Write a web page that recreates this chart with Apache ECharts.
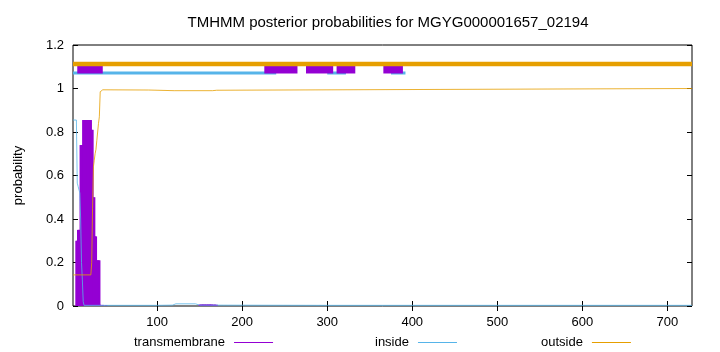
<!DOCTYPE html>
<html><head><meta charset="utf-8">
<script src="https://cdn.jsdelivr.net/npm/echarts@6/dist/echarts.min.js"></script>
<style>html,body{margin:0;padding:0;background:#fff}#c{width:720px;height:352px}</style>
</head><body><div id="c"></div>
<script>
var titleText = "TMHMM posterior probabilities for MGYG000001657_02194";
var seqLength = 729;
var xTicks = [100, 200, 300, 400, 500, 600, 700];
// transmembrane posterior (impulses): [position, probability]
var tmData = [[5,0.30],[6,0.30],[7,0.35],[8,0.35],[9,0.35],[10,0.74],[11,0.74],[12,0.74],
  [13,0.855],[14,0.855],[15,0.855],[16,0.855],[17,0.855],[18,0.855],[19,0.855],[20,0.855],[21,0.855],[22,0.855],
  [23,0.81],[24,0.81],[25,0.50],[26,0.50],[27,0.32],[28,0.32],[29,0.21],[30,0.21],[31,0.21],[32,0.21],
  [33,0.006],[36,0.005],[40,0.004],
  [150,0.007],[152,0.008],[154,0.008],[156,0.008],[158,0.008],[160,0.008],[162,0.008],[164,0.008],[166,0.007],[168,0.007],[170,0.006]];
// inside posterior
var insideData = [[1,0.855],[5,0.855],[6,0.565],[7,0.55],[9,0.52],[10,0.4],[11,0.2],[12,0.12],[13,0.02],[14,0.003],
  [100,0.003],[118,0.004],[122,0.01],[145,0.01],[150,0.004],[300,0.003],[729,0.003]];
// outside posterior
var outsideData = [[1,0.143],[22,0.143],[23,0.2],[24,0.45],[25,0.64],[26,0.67],[27,0.70],[28,0.72],[29,0.76],[30,0.80],
  [31,0.84],[32,0.87],[33,0.985],[36,0.994],[90,0.993],[120,0.99],[165,0.99],[170,0.992],[171,1.0],[729,1.0]];
// predicted topology segments drawn above the curves
var tmSegments = [[6,36],[226,265],[275,307],[311,333],[366,389]];
var insideSegments = [[1,240],[300,322],[375,392]];
var outsideSegments = [[1,729]];
var tmLevel = 1.092, insideLevel = 1.071, outsideLevel = 1.113;

var C_TM = '#9400d3', C_IN = '#56b4e9', C_OUT = '#e69f00';
var series = [];
series.push({name:'transmembrane', type:'bar', data: tmData, barWidth: 2.2, itemStyle:{color:C_TM}, z:2});
series.push({name:'inside', type:'line', data: insideData, showSymbol:false, lineStyle:{color:C_IN, width:1, opacity:0.8}, itemStyle:{color:C_IN}, z:3});
series.push({name:'outside', type:'line', data: outsideData, showSymbol:false, lineStyle:{color:C_OUT, width:1, opacity:0.8}, itemStyle:{color:C_OUT}, z:3});
insideSegments.forEach(function(s){
  series.push({type:'line', data:[[s[0],insideLevel],[s[1],insideLevel]], showSymbol:false, silent:true, lineStyle:{color:C_IN, width:3, cap:'butt'}, z:4});
});
tmSegments.forEach(function(s){
  series.push({type:'line', data:[[s[0],tmLevel],[s[1],tmLevel]], showSymbol:false, silent:true, lineStyle:{color:C_TM, width:10, cap:'butt'}, z:5});
});
outsideSegments.forEach(function(s){
  series.push({type:'line', data:[[s[0],outsideLevel],[s[1],outsideLevel]], showSymbol:false, silent:true, lineStyle:{color:C_OUT, width:4.5, cap:'butt'}, z:6});
});

var fontFam = '"Liberation Sans", Arial, sans-serif';
var legendBase = {orient:'horizontal', align:'right', icon:'rect', itemWidth:39, itemHeight:1, itemGap:0, top:331,
  textStyle:{fontFamily:fontFam, fontSize:13, color:'#000', padding:[0,4,0,0]}};
function lg(name, left, color){ var o = Object.assign({}, legendBase); o.data=[{name:name, itemStyle:{color:color}}]; o.left=left; return o; }

var chart = echarts.init(document.getElementById('c'), null, {renderer:'canvas'});
chart.setOption({
  animation:false,
  backgroundColor:'#fff',
  title:{text:titleText, left:383, textAlign:'center', top:10, textStyle:{fontFamily:fontFam, fontSize:15, fontWeight:'normal', color:'#000'}},
  grid:{left:73, right:28, top:45, bottom:46, show:true, borderColor:'#000', borderWidth:1, backgroundColor:'transparent'},
  legend:[lg('transmembrane',129,C_TM), lg('inside',370,C_IN), lg('outside',536,C_OUT)],
  xAxis:[{type:'value', min:1, max:seqLength, splitLine:{show:false},
    axisLine:{show:false},
    axisTick:{inside:true, length:5, lineStyle:{color:'#000'}, customValues:xTicks},
    axisLabel:{customValues:xTicks, fontFamily:fontFam, fontSize:13, color:'#000', margin:10}},
    {type:'value', min:1, max:seqLength, position:'top', splitLine:{show:false}, axisLine:{show:false},
    axisTick:{inside:true, length:5, lineStyle:{color:'#000'}, customValues:xTicks}, axisLabel:{show:false}}],
  yAxis:[{type:'value', min:0, max:1.2, interval:0.2, name:'probability', nameLocation:'middle', nameGap:48,
    nameTextStyle:{fontFamily:fontFam, fontSize:13, color:'#000'},
    splitLine:{show:false}, axisLine:{show:false},
    axisTick:{inside:true, length:5, lineStyle:{color:'#000'}},
    axisLabel:{fontFamily:fontFam, fontSize:13, color:'#000', margin:9}},
    {type:'value', min:0, max:1.2, interval:0.2, position:'right', splitLine:{show:false}, axisLine:{show:false},
    axisTick:{inside:true, length:5, lineStyle:{color:'#000'}}, axisLabel:{show:false}}],
  series: series
});
</script></body></html>
